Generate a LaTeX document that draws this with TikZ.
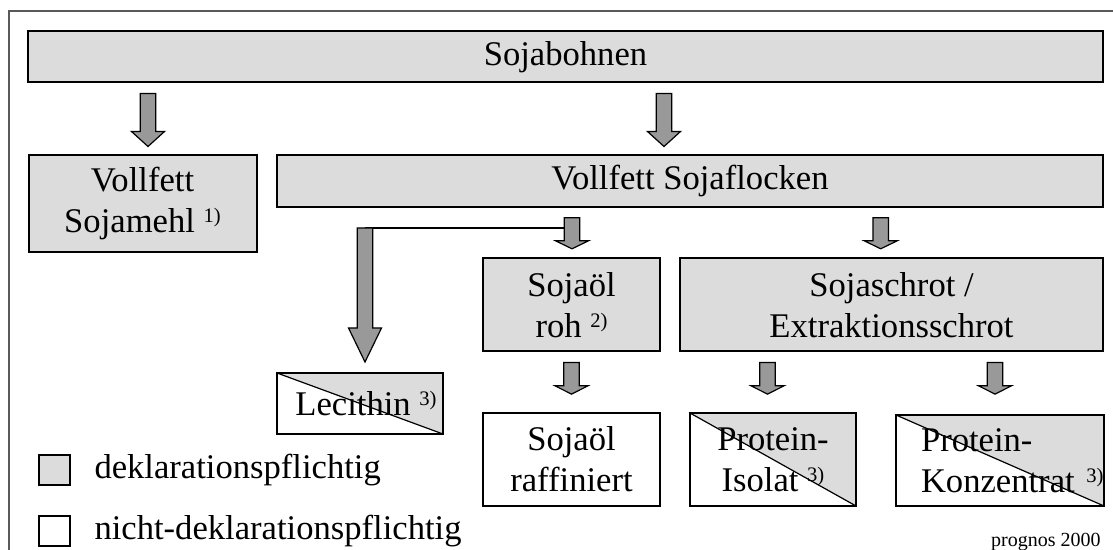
\documentclass[tikz,border=0pt]{standalone}
\usepackage{fontspec}
\setmainfont{Liberation Serif}
\usepackage{tikz}
\usetikzlibrary{positioning,calc}
\definecolor{declgray}{RGB}{220,220,220}
\definecolor{arrowgray}{gray}{0.6}
\newcommand{\mainsize}{\fontsize{17.3}{20.5}\selectfont}
\newcommand{\anm}[1]{\raisebox{4.8pt}{\fontsize{10.3}{10}\selectfont #1)}}
% block arrow: [top gap] {x} {start point} {length} {head length}, lengths in px
\newcommand{\blockarrow}[5][5pt]{%
  \filldraw[arrowbody] let \p1=(#3), \p2=(#2,0) in
    ({\x2-3.9pt},{\y1-#1}) -- ({\x2-3.9pt},{\y1-#1-(#4-#5)*0.5pt})
    -- ({\x2-8.25pt},{\y1-#1-(#4-#5)*0.5pt}) -- ({\x2},{\y1-#1-#4*0.5pt})
    -- ({\x2+8.25pt},{\y1-#1-(#4-#5)*0.5pt}) -- ({\x2+3.9pt},{\y1-#1-(#4-#5)*0.5pt})
    -- ({\x2+3.9pt},{\y1-#1}) -- cycle;}
\tikzset{
  decl/.style={draw, line width=1pt, fill=declgray, align=center, inner sep=0pt, font=\mainsize},
  nodecl/.style={decl, fill=white},
  mixed/.style={nodecl, path picture={
      \fill[declgray] (path picture bounding box.north west) -- (path picture bounding box.north east)
        -- (path picture bounding box.south east) -- cycle;
      \draw[line width=0.6pt] (path picture bounding box.north west) -- (path picture bounding box.south east);}},
  boxsize/.style 2 args={minimum width=#1*0.5pt, minimum height=#2*0.5pt},
  legendbox/.style={draw, line width=0.7pt, inner sep=0pt, minimum width=15.5pt, minimum height=15pt},
  arrowbody/.style={fill=arrowgray, draw=black, line width=0.6pt, line join=miter},
  thinline/.style={draw, line width=0.6pt}
}
\begin{document}
\begin{tikzpicture}[x=0.5pt, y=-0.5pt]
    \useasboundingbox (0,0) rectangle (1113,550);
    % frame, only top and left edge visible
    \draw[black!65, line width=1pt] (8.6,550) -- (8.6,11.3) -- (1113,11.3);
    % the boxes
    \node [decl, boxsize={1075}{51}] (bohnen) at (565.5,57) {Sojabohnen};
    \node [decl, boxsize={228}{97}] (mehl) at (142.5,203.3) {Vollfett\\Sojamehl \anm{1}};
    \node [decl, boxsize={826}{52}] (flocken) at (690,180.8) {Vollfett Sojaflocken};
    \node [decl, boxsize={177}{93}] (roh) at (571.5,305) {Sojaöl\\roh \anm{2}};
    \node [decl, boxsize={423}{93}] (schrot) at (891.5,305) {Sojaschrot /\\Extraktionsschrot};
    \node [mixed, boxsize={166}{61}] (lecithin) at (360,403.5) {\hspace*{6pt}Lecithin \anm{3}};
    \node [nodecl, boxsize={177}{93}] (raff) at (571.5,459.5) {Sojaöl\\raffiniert};
    \node [mixed, boxsize={166}{93}] (isolat) at (773,459.5) {Protein-\\Isolat \anm{3}};
    \node [mixed, boxsize={208}{91}, align=left, text width=79pt] (konz) at (1000,460.5) {Protein-\\Konzentrat~\anm{3}};
    % legend
    \node [legendbox, fill=declgray] (legdecl) at (54.3,470) {};
    \node [legendbox, fill=white] (legnodecl) at (54.3,531) {};
    \node [right=11.8pt of legdecl, inner sep=0pt, font=\mainsize] (legdecltext) {deklarationspflichtig};
    \node [right=11.8pt of legnodecl, inner sep=0pt, font=\mainsize] (legnodecltext) {nicht-deklarationspflichtig};
    \node [anchor=base east, inner sep=0pt, font=\fontsize{10}{12}\selectfont] (quelle) at (1101,546.5) {prognos 2000};
    % branch line from the oil arrow to the lecithin arrow
    \coordinate (split) at (365,228);
    \draw [thinline] (split) -- (split -| roh);
    % block arrows
    \blockarrow{148}{bohnen.south}{53}{15}
    \blockarrow{664}{bohnen.south}{53}{15}
    \blockarrow{572}{flocken.south}{31}{8}
    \blockarrow{880.7}{flocken.south}{31}{8}
    \blockarrow[0pt]{365}{split}{134}{34}
    \blockarrow{571.5}{roh.south}{31.6}{8.3}
    \blockarrow{767.5}{schrot.south}{31.6}{8.3}
    \blockarrow{995}{schrot.south}{31.6}{8.3}
\end{tikzpicture}
\end{document}
